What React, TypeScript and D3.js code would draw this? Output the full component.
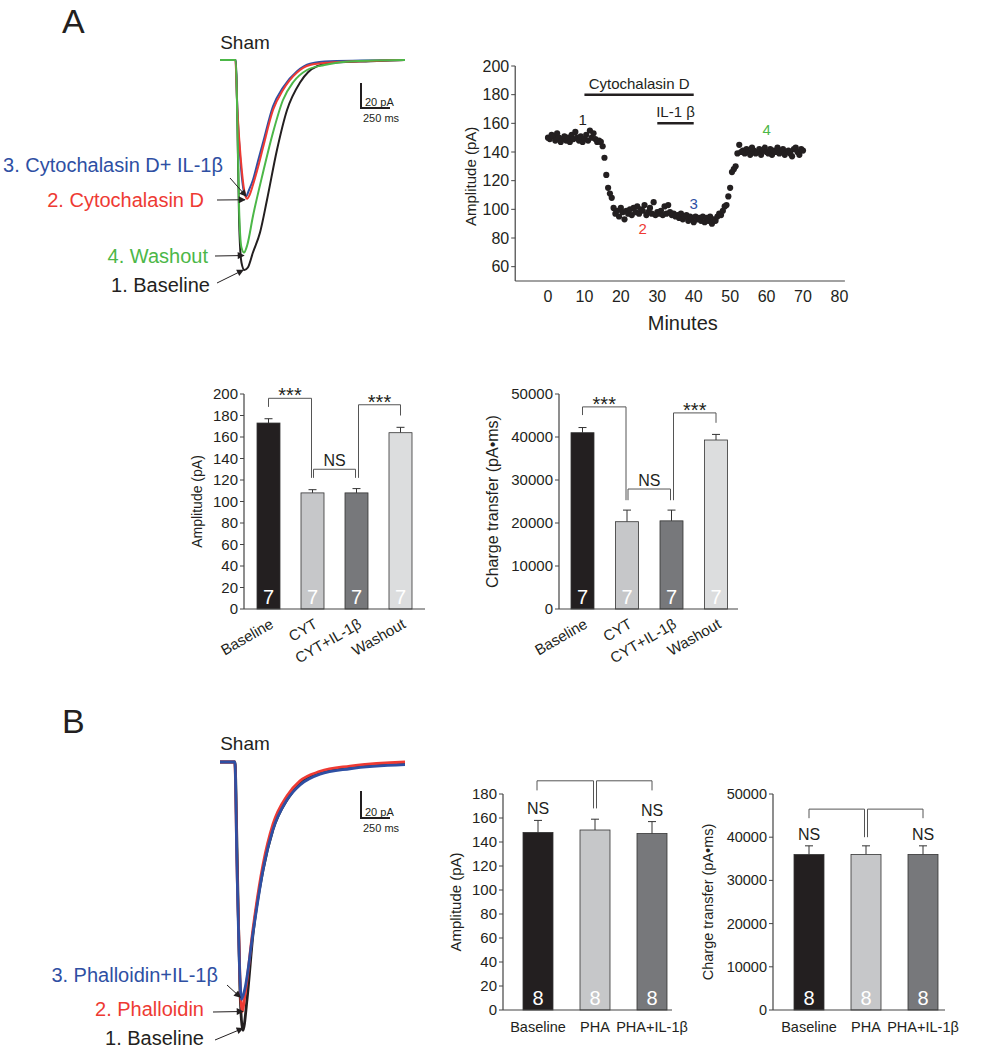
import React from 'react';
import * as d3 from 'd3';

const FONT = '"Liberation Sans", Arial, Helvetica, sans-serif';
const INK = '#231f20';
const BLUE = '#2e4fa3';
const RED = '#ee3a33';
const GREEN = '#4cb748';

// ---- panel A example traces: [time ms, current pA]
const aBaseline: [number, number][] = [[0, 0], [138, 0], [150, -50], [165, -130], [185, -162], [210, -168], [240, -166], [284, -154], [345, -138], [405, -112], [491, -72], [578, -40], [690, -18], [836, -5], [1000, -2], [1300, -1], [1595, 0]];
const aCyto: [number, number][] = [[0, 0], [132, 0], [150, -40], [180, -80], [210, -105], [233, -111], [255, -108], [284, -100], [330, -85], [371, -70], [457, -40], [543, -24], [664, -10], [776, -4], [950, -2], [1200, -1], [1595, 0]];
const aCytoIL: [number, number][] = [[0, 0], [134, 0], [150, -40], [180, -85], [205, -105], [225, -109], [250, -104], [284, -96], [330, -80], [371, -66], [457, -37], [543, -22], [664, -9], [776, -3], [950, -1], [1595, 0]];
const aWash: [number, number][] = [[0, 0], [136, 0], [150, -50], [165, -120], [185, -150], [207, -154], [235, -148], [284, -125], [371, -90], [457, -58], [543, -32], [629, -18], [750, -8], [900, -4], [1150, -1], [1595, 0]];

// ---- panel B example traces
const bBaseline: [number, number][] = [[0, 0], [129, 0], [147, -65], [172, -169], [198, -199], [233, -176], [284, -128], [371, -80], [457, -50], [578, -28], [690, -16], [862, -8], [1121, -4], [1595, -1]];
const bPha: [number, number][] = [[0, 0], [127, 0], [147, -80], [172, -160], [190, -185], [220, -170], [284, -124], [371, -76], [457, -46], [578, -25], [690, -14], [862, -7], [1121, -3], [1595, 0]];
const bPhaIL: [number, number][] = [[0, 0], [128, 0], [147, -80], [172, -160], [185, -176], [215, -168], [284, -127], [371, -80], [457, -50], [578, -28], [690, -17], [862, -9], [1121, -5], [1595, -2]];

// ---- amplitude time course (one point every 0.5 min from 0)
const courseAmp = [
  150, 149, 152, 151, 148, 153, 150, 147, 149, 151, 148, 150, 147, 152, 149, 154, 150, 148, 151, 147, 149, 152, 148, 155, 150, 153, 149, 147, 148,
  147, 144, 136, 124, 115, 111, 108, 101, 97, 99, 95, 101, 98, 93, 99, 97, 100, 96, 101, 98, 102, 97, 100, 99, 103, 96, 98, 101, 97, 105, 96,
  98, 97, 99, 96, 102, 97, 103, 98, 96, 97, 95, 96, 94, 97, 93, 95, 96, 92, 95, 94, 91, 95, 93, 94, 92, 95, 91, 94, 92, 95, 90, 93, 92, 95,
  97, 96, 99, 102, 103, 109, 115, 126, 128, 130, 139, 145, 140,
  141, 139, 142, 140, 138, 143, 141, 139, 140, 142, 138, 141, 143, 140, 139, 142, 138, 141, 140, 143, 139, 141, 142, 138, 140, 141, 139, 137, 142, 143, 140, 138, 142, 141,
];
const courseStep = 0.5;
const drugBars = [
  { label: 'Cytochalasin D', from: 10, to: 40, level: 180 },
  { label: 'IL-1 β', from: 30, to: 40, level: 160 },
];
const courseMarks = [
  { text: '1', t: 9.5, v: 159, color: INK },
  { text: '2', t: 26, v: 83, color: RED },
  { text: '3', t: 40, v: 100, color: BLUE },
  { text: '4', t: 60, v: 152, color: GREEN },
];

// ---- bar charts
const catsA = ['Baseline', 'CYT', 'CYT+IL-1β', 'Washout'];
const colorsA = [INK, '#c6c7c9', '#77787b', '#dcddde'];
const ampA = [173, 108, 108, 164];
const ampAErr = [4, 3, 4, 5];
const chargeA = [41000, 20300, 20500, 39300];
const chargeAErr = [1200, 2700, 2500, 1300];
const nA = ['7', '7', '7', '7'];

const catsB = ['Baseline', 'PHA', 'PHA+IL-1β'];
const colorsB = [INK, '#c6c7c9', '#77787b'];
const ampB = [148, 150, 147];
const ampBErr = [10, 9, 10];
const chargeB = [36000, 36000, 36000];
const chargeBErr = [2000, 2000, 2000];
const nB = ['8', '8', '8'];

type Bracket = { a: number; b: number; aOff: number; bOff: number; aBot: number; bBot: number; top: number; label?: string };

const ampABrackets: Bracket[] = [
  { a: 0, b: 1, aOff: 0, bOff: -1, aBot: 188, bBot: 122, top: 196, label: '***' },
  { a: 1, b: 2, aOff: 1, bOff: -1, aBot: 122, bBot: 122, top: 130, label: 'NS' },
  { a: 2, b: 3, aOff: 2, bOff: 0, aBot: 122, bBot: 180, top: 190, label: '***' },
];
const chargeABrackets: Bracket[] = [
  { a: 0, b: 1, aOff: 0, bOff: -1, aBot: 45100, bBot: 25300, top: 47000, label: '***' },
  { a: 1, b: 2, aOff: 1, bOff: -1, aBot: 25300, bBot: 25300, top: 27900, label: 'NS' },
  { a: 2, b: 3, aOff: 2, bOff: 0, aBot: 25300, bBot: 43300, top: 45600, label: '***' },
];
const ampBBrackets: Bracket[] = [
  { a: 0, b: 1, aOff: -1, bOff: -1.5, aBot: 183, bBot: 168, top: 191 },
  { a: 1, b: 2, aOff: 1.5, bOff: 0, aBot: 168, bBot: 183, top: 191 },
];
const chargeBBrackets: Bracket[] = [
  { a: 0, b: 1, aOff: 0, bOff: -1.5, aBot: 44400, bBot: 40000, top: 46500 },
  { a: 1, b: 2, aOff: 1.5, bOff: 0, aBot: 40000, bBot: 44400, top: 46500 },
];
const nsAboveB = [0, 2];

const lineGen = (x: d3.ScaleLinear<number, number>, y: d3.ScaleLinear<number, number>) =>
  d3.line<[number, number]>().x(d => x(d[0])).y(d => y(d[1])).curve(d3.curveMonotoneX);

const minOf = (tr: [number, number][]) => tr.reduce((m, d) => (d[1] < m[1] ? d : m), tr[0]);

function Traces({ traces, colors, x, y, width, labels, scaleY, sham }: any) {
  const gen = lineGen(x, y);
  const sbX = 361;
  const barH = Math.abs(y(-20) - y(0));
  return (
    <g>
      <text x={sham[0]} y={sham[1]} fontSize={19} textAnchor="middle">Sham</text>
      {traces.map((tr: [number, number][], i: number) => (
        <path key={i} d={gen(tr) || ''} fill="none" stroke={colors[i]} strokeWidth={width} strokeLinejoin="round" />
      ))}
      {/* scale bar: 20 pA / 250 ms */}
      <path d={`M${sbX},${scaleY - barH} V${scaleY} H${sbX + x(250) - x(0)}`} fill="none" stroke={INK} strokeWidth={2} />
      <text x={sbX + 4} y={scaleY - 2} fontSize={11}>20 pA</text>
      <text x={sbX + 2} y={scaleY + 14} fontSize={11}>250 ms</text>
      {labels.map((l: any, i: number) => {
        const m = minOf(l.trace);
        const tx = x(m[0]) + l.tip[0];
        const ty = y(m[1]) + l.tip[1];
        return (
          <g key={i}>
            <text x={l.x} y={l.y} fontSize={20} textAnchor="end" fill={l.color}>{l.text}</text>
            <line x1={l.tail[0]} y1={l.tail[1]} x2={tx} y2={ty} stroke={INK} strokeWidth={1} markerEnd="url(#ah)" />
          </g>
        );
      })}
    </g>
  );
}

function TimeCourse() {
  const x = d3.scaleLinear().domain([0, 70]).range([548, 803]);
  const y = d3.scaleLinear().domain([50, 200]).range([281, 66]);
  const yTicks = d3.range(60, 201, 20);
  const xTicks = d3.range(0, 81, 10);
  return (
    <g>
      <line x1={x(-9)} x2={x(81.5)} y1={y(50)} y2={y(50)} stroke="#444" strokeWidth={1.2} />
      <line x1={x(-9)} x2={x(-9)} y1={y(50)} y2={y(200)} stroke="#444" strokeWidth={1.2} />
      {yTicks.map(t => (
        <g key={t}>
          <line x1={x(-9) - 4} x2={x(-9)} y1={y(t)} y2={y(t)} stroke="#444" />
          <text x={x(-9) - 6} y={y(t)} dy="0.35em" fontSize={16} textAnchor="end">{t}</text>
        </g>
      ))}
      {xTicks.map(t => (
        <text key={t} x={x(t)} y={302} fontSize={16} textAnchor="middle">{t}</text>
      ))}
      <text x={x(37)} y={330} fontSize={20} textAnchor="middle">Minutes</text>
      <text transform={`translate(470,${y(123)}) rotate(-90)`} fontSize={15} textAnchor="middle" dominantBaseline="central">Amplitude (pA)</text>
      {drugBars.map(b => (
        <g key={b.label}>
          <line x1={x(b.from)} x2={x(b.to)} y1={y(b.level)} y2={y(b.level)} stroke={INK} strokeWidth={2.5} />
          <text x={(x(b.from) + x(b.to)) / 2} y={y(b.level) - 6} fontSize={15} textAnchor="middle">{b.label}</text>
        </g>
      ))}
      {courseAmp.map((v, i) => (
        <circle key={i} cx={x(i * courseStep)} cy={y(v)} r={3.1} fill={INK} />
      ))}
      {courseMarks.map(m => (
        <text key={m.text} x={x(m.t)} y={y(m.v)} fontSize={15} textAnchor="middle" fill={m.color}>{m.text}</text>
      ))}
    </g>
  );
}

function BarChart(p: any) {
  const y = d3.scaleLinear().domain([0, p.yMax]).range([p.yBot, p.yTop]);
  const x = d3.scalePoint<number>().domain(p.cats.map((_: string, i: number) => i)).range([p.c0, p.c1]);
  const ticks = d3.range(0, p.yMax + 1, p.step);
  const hw = p.barW / 2;
  return (
    <g>
      {p.cats.map((c: string, i: number) => {
        const cx = x(i) as number;
        const top = y(p.vals[i] + p.errs[i]);
        return (
          <g key={c}>
            <line x1={cx} x2={cx} y1={y(p.vals[i])} y2={top} stroke="#333" />
            <line x1={cx - 4} x2={cx + 4} y1={top} y2={top} stroke="#333" />
            <rect x={cx - hw} y={y(p.vals[i])} width={p.barW} height={p.yBot - y(p.vals[i])} fill={p.colors[i]} stroke="#333" strokeWidth={0.8} />
            <text x={cx} y={p.yBot - 5} fontSize={20} fill="#fff" textAnchor="middle">{p.n[i]}</text>
            {p.rotate ? (
              <text transform={`translate(${cx + 6},${p.yBot + 18}) rotate(-30)`} fontSize={15} textAnchor="end">{c}</text>
            ) : (
              <text x={cx} y={p.yBot + 22} fontSize={14.5} textAnchor="middle">{c}</text>
            )}
          </g>
        );
      })}
      <line x1={p.axisX} x2={p.axisEnd} y1={p.yBot} y2={p.yBot} stroke="#444" strokeWidth={1.2} />
      <line x1={p.axisX} x2={p.axisX} y1={p.yBot} y2={p.yTop} stroke="#444" strokeWidth={1.2} />
      {ticks.map((t: number) => (
        <g key={t}>
          <line x1={p.axisX - 4} x2={p.axisX} y1={y(t)} y2={y(t)} stroke="#444" />
          <text x={p.axisX - 6} y={y(t)} dy="0.35em" fontSize={p.tickSize} textAnchor="end">{t}</text>
        </g>
      ))}
      <text transform={`translate(${p.yLabelX},${(p.yTop + p.yBot) / 2}) rotate(-90)`} fontSize={p.labelSize} textAnchor="middle" dominantBaseline="central">{p.yLabel}</text>
      {p.brackets.map((b: Bracket, i: number) => {
        const xa = (x(b.a) as number) + b.aOff;
        const xb = (x(b.b) as number) + b.bOff;
        const stars = b.label === '***';
        return (
          <g key={i}>
            <path d={`M${xa},${y(b.aBot)} V${y(b.top)} H${xb} V${y(b.bBot)}`} fill="none" stroke="#555" strokeWidth={1} />
            {b.label && (
              <text x={(xa + xb) / 2} y={stars ? y(b.top) + 4 : y(b.top) - 3} fontSize={stars ? 20 : 16} textAnchor="middle">{b.label}</text>
            )}
          </g>
        );
      })}
      {(p.nsAbove || []).map((i: number) => (
        <text key={'ns' + i} x={x(i) as number} y={y(p.vals[i] + p.errs[i]) - 6} fontSize={16} textAnchor="middle">NS</text>
      ))}
    </g>
  );
}

export default function App() {
  const xTr = d3.scaleLinear().domain([0, 1595]).range([220, 405]);
  const yA = d3.scaleLinear().domain([0, -168]).range([60, 270]);
  const yB = d3.scaleLinear().domain([0, -198]).range([762, 1029]);

  const labelsA = [
    { text: '3. Cytochalasin D+ IL-1β', color: BLUE, x: 223, y: 172, trace: aCytoIL, tail: [230, 178], tip: [0, 0] },
    { text: '2. Cytochalasin D', color: RED, x: 204, y: 207, trace: aCyto, tip: [-2, 1], tail: [217, 200] },
    { text: '4. Washout', color: GREEN, x: 208, y: 263, trace: aWash, tip: [0, 3], tail: [215, 256] },
    { text: '1. Baseline', color: INK, x: 210, y: 292, trace: aBaseline, tip: [-1, 0], tail: [217, 283] },
  ];
  const labelsB = [
    { text: '3. Phalloidin+IL-1β', color: BLUE, x: 218, y: 982, trace: bPhaIL, tip: [-1, -2], tail: [227, 985] },
    { text: '2. Phalloidin', color: RED, x: 204, y: 1016, trace: bPha, tip: [1, 0], tail: [213, 1012] },
    { text: '1. Baseline', color: INK, x: 204, y: 1045, trace: bBaseline, tip: [0, -2], tail: [215, 1040] },
  ];

  return (
    <svg width={984} height={1050} style={{ position: 'absolute', left: 0, top: 0, background: '#fff' }} fontFamily={FONT} fill={INK}>
      <defs>
        <marker id="ah" viewBox="0 0 10 10" refX={9} refY={5} markerWidth={9} markerHeight={7} markerUnits="userSpaceOnUse" orient="auto">
          <path d="M0,0 L10,5 L0,10 z" fill={INK} />
        </marker>
      </defs>
      <text x={62} y={33} fontSize={34}>A</text>
      <text x={62} y={733} fontSize={34}>B</text>

      <Traces traces={[aBaseline, aCytoIL, aCyto, aWash]} colors={[INK, BLUE, RED, GREEN]} x={xTr} y={yA} width={2}
        labels={labelsA} scaleY={108} sham={[245, 49]} />
      <Traces traces={[bBaseline, bPha, bPhaIL]} colors={[INK, RED, BLUE]} x={xTr} y={yB} width={2.8}
        labels={labelsB} scaleY={818} sham={[245, 750]} />

      <TimeCourse />

      <BarChart cats={catsA} vals={ampA} errs={ampAErr} n={nA} colors={colorsA} yMax={200} step={20}
        axisX={244} axisEnd={425} c0={268.5} c1={400.5} yTop={394} yBot={609} barW={23}
        yLabel="Amplitude (pA)" yLabelX={197} labelSize={14} tickSize={15} rotate brackets={ampABrackets} />
      <BarChart cats={catsA} vals={chargeA} errs={chargeAErr} n={nA} colors={colorsA} yMax={50000} step={10000}
        axisX={559} axisEnd={738} c0={582.5} c1={716} yTop={394} yBot={609} barW={23}
        yLabel="Charge transfer (pA•ms)" yLabelX={492} labelSize={16} tickSize={15} rotate brackets={chargeABrackets} />
      <BarChart cats={catsB} vals={ampB} errs={ampBErr} n={nB} colors={colorsB} yMax={180} step={20}
        axisX={503} axisEnd={672} c0={538} c1={652} yTop={794} yBot={1010} barW={30}
        yLabel="Amplitude (pA)" yLabelX={455} labelSize={15} tickSize={15} brackets={ampBBrackets} nsAbove={nsAboveB} />
      <BarChart cats={catsB} vals={chargeB} errs={chargeBErr} n={nB} colors={colorsB} yMax={50000} step={10000}
        axisX={773} axisEnd={945} c0={809} c1={923} yTop={794} yBot={1010} barW={30}
        yLabel="Charge transfer (pA•ms)" yLabelX={708} labelSize={14.5} tickSize={14.5} brackets={chargeBBrackets} nsAbove={nsAboveB} />
    </svg>
  );
}
